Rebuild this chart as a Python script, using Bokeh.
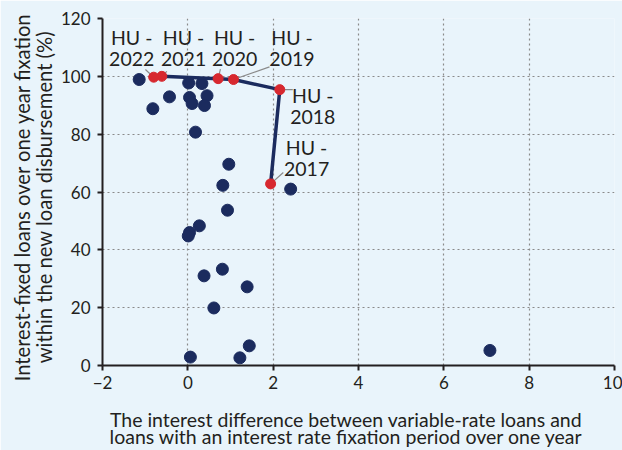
from bokeh.plotting import figure
from bokeh.models import ColumnDataSource, FixedTicker, Range1d, LinearAxis
from bokeh.core.properties import value
from bokeh.embed import file_html
from bokeh.resources import INLINE

# Other countries (interest difference, share of fixed-rate loans %)
other_x = [-1.14, 0.02, 0.33, -0.43, 0.04, 0.45, -0.82, 0.10, 0.39, 0.18,
           0.96, 0.82, 2.41, 0.93, 0.27, 0.04, 0.01, 0.38, 0.81, 1.39,
           0.61, 1.44, 0.06, 1.22, 7.08]
other_y = [98.9, 97.7, 97.5, 92.9, 92.7, 93.3, 88.8, 90.6, 89.9, 80.7,
           69.6, 62.3, 61.0, 53.7, 48.3, 46.0, 44.8, 31.0, 33.3, 27.2,
           19.9, 6.8, 2.9, 2.65, 5.2]

# Hungary by year
hu_years = ["2017", "2018", "2019", "2020", "2021", "2022"]
hu_x = [1.94, 2.155, 1.07, 0.71, -0.61, -0.80]
hu_y = [62.8, 95.4, 98.9, 99.2, 100.0, 99.7]

x_ticks = [-2, 0, 2, 4, 6, 8, 10]
y_ticks = [0, 20, 40, 60, 80, 100, 120]

x_title_1 = "The interest difference between variable-rate loans and"
x_title_2 = "loans with an interest rate fixation period over one year"
y_title_1 = "Interest-fixed loans over one year fixation"
y_title_2 = "within the new loan disbursement (%)"

# label placement (screen px offsets from each point: text centre / leader end)
lab_dx = [36, 33, 58.5, 16.5, 21.8, -22]
lab_dy = [-15, 27, -21, -20, -17.7, -18.7]
lead_dx = [12.7, 13, 36, 2.3, 5, -8.3]
lead_dy = [-11.4, 0, -12.7, -9.6, -5, -7.7]

FONT = "Lato"
TXT = "#231f20"
NAVY = "#1b2b5e"
RED = "#d7282f"
BG = "#e9f4fb"
PAD_X = "\u00a0" * 5
PAD_Y = "\u00a0" * 2

XPX = 512 / 12.0   # px per x unit (for leader lines)
YPX = 348.4 / 120.0  # px per y unit

p = figure(width=622, height=450, output_backend="svg", toolbar_location=None,
           x_range=Range1d(-2, 10), y_range=Range1d(0, 120),
           min_border_left=102, min_border_right=8, min_border_top=18,
           min_border_bottom=83)
p.background_fill_color = BG
p.border_fill_color = BG
p.outline_line_color = None


def style_title(ax, size, standoff):
    ax.axis_label_text_font = FONT
    ax.axis_label_text_font_size = size
    ax.axis_label_text_font_style = "normal"
    ax.axis_label_text_color = TXT
    ax.axis_label_standoff = standoff


for ax, ticks in ((p.xaxis[0], x_ticks), (p.yaxis[0], y_ticks)):
    ax.ticker = FixedTicker(ticks=ticks)
    ax.axis_line_width = 2
    ax.axis_line_color = TXT
    ax.major_tick_line_width = 2
    ax.major_tick_line_color = TXT
    ax.major_tick_out = 5
    ax.major_tick_in = 0
    ax.minor_tick_line_color = None
    ax.major_label_text_font = FONT
    ax.major_label_text_font_size = "17px"
    ax.major_label_text_color = TXT

p.xaxis[0].major_label_standoff = 5
p.yaxis[0].major_label_standoff = 7
p.xaxis[0].axis_label = x_title_1 + PAD_X
p.yaxis[0].axis_label = y_title_2 + PAD_Y
style_title(p.xaxis[0], "19.5px", 16)
style_title(p.yaxis[0], "20.2px", 2)

# second title lines as label-only axes stacked outside
x2 = LinearAxis(ticker=FixedTicker(ticks=[]), axis_line_color=None,
                major_tick_line_color=None, minor_tick_line_color=None,
                axis_label=x_title_2 + PAD_X)
style_title(x2, "19.5px", -9)
p.add_layout(x2, "below")

y2 = LinearAxis(ticker=FixedTicker(ticks=[]), axis_line_color=None,
                major_tick_line_color=None, minor_tick_line_color=None,
                axis_label=y_title_1 + PAD_Y)
style_title(y2, "20.2px", -5)
p.add_layout(y2, "left")

for g, ticks in ((p.xgrid, x_ticks), (p.ygrid, y_ticks)):
    g.ticker = FixedTicker(ticks=ticks)
    g.grid_line_color = "#8a8a8a"
    g.grid_line_dash = "2 3"
    g.grid_line_width = 1.2

p.scatter(other_x, other_y, size=12, color=NAVY)

src = ColumnDataSource(dict(
    x=hu_x, y=hu_y, years=hu_years, hu=["HU -"] * len(hu_x),
    ldx=lab_dx, ldy2=lab_dy, ldy1=[d - 21 for d in lab_dy],
    x1=[x + dx / XPX for x, dx in zip(hu_x, lead_dx)],
    y1=[y - dy / YPX for y, dy in zip(hu_y, lead_dy)],
))

p.segment(x0="x", y0="y", x1="x1", y1="y1", source=src, line_color="#8a8a8a", line_width=1.2)
p.line("x", "y", source=src, line_color=NAVY, line_width=3.5)
p.scatter("x", "y", source=src, size=10, color=RED)

p.text("x", "y", text="hu", source=src, x_offset="ldx", y_offset="ldy1",
       text_align="center", text_baseline="alphabetic",
       text_font=value(FONT), text_font_size="19.5px", text_color=TXT)
p.text("x", "y", text="years", source=src, x_offset="ldx", y_offset="ldy2",
       text_align="center", text_baseline="alphabetic",
       text_font=value(FONT), text_font_size="19.5px", text_color=TXT)

open("out.html", "w").write(file_html(p, INLINE))
